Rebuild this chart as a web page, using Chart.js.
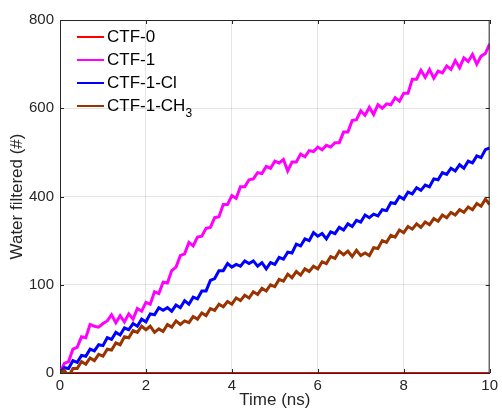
<!DOCTYPE html>
<html>
<head>
<meta charset="utf-8">
<script src="https://cdn.jsdelivr.net/npm/chart.js@4"></script>
<style>
  body { margin: 0; background: #fff; }
  #wrap { position: relative; width: 502px; height: 411px; }
  #legend { position: absolute; left: 77px; top: 25px; font: 17px "Liberation Sans", Arial, sans-serif; color: #000; }
  #legend .row { height: 23px; display: flex; align-items: center; }
  #legend .swatch { width: 27px; height: 2px; margin-right: 3px; }
  #legend sub { font-size: 12px; vertical-align: -6px; line-height: 0; }
</style>
</head>
<body>
<div id="wrap">
  <canvas id="chart"></canvas>
  <div id="legend"></div>
</div>
<script>
const times = [];
for (let i = 0; i <= 100; i++) times.push(i / 10);

const seriesNames = ['CTF-0', 'CTF-1', 'CTF-1-Cl', 'CTF-1-CH<sub>3</sub>'];
const seriesColors = ['#ff0000', '#ff00ff', '#0000ff', '#993300'];

const ctf0 = times.map(() => 0);

const ctf1 = [
  0, 22, 26, 54, 58, 82, 80, 110, 106, 104,
  112, 118, 132, 114, 130, 116, 134, 122, 146, 140,
  160, 156, 184, 180, 206, 204, 232, 240, 266, 270,
  296, 288, 308, 310, 328, 330, 352, 354, 382, 382,
  402, 396, 422, 422, 438, 440, 454, 452, 468, 464,
  480, 476, 484, 458, 478, 478, 496, 490, 504, 502,
  512, 506, 516, 512, 522, 522, 546, 546, 572, 574,
  594, 584, 602, 586, 608, 600, 610, 608, 624, 616,
  634, 634, 666, 666, 686, 670, 688, 668, 684, 680,
  696, 688, 708, 692, 714, 706, 722, 700, 718, 724,
  746
];

const ctf1Cl = [
  0, 12, 10, 28, 24, 40, 38, 54, 50, 64,
  62, 80, 76, 92, 86, 102, 98, 112, 106, 122,
  116, 134, 132, 148, 142, 148, 140, 154, 148, 164,
  156, 172, 168, 186, 186, 210, 214, 232, 232, 248,
  240, 246, 242, 254, 248, 254, 242, 250, 236, 250,
  246, 262, 258, 274, 272, 292, 288, 304, 300, 318,
  310, 316, 304, 320, 316, 330, 324, 338, 332, 346,
  342, 358, 352, 360, 356, 370, 368, 386, 384, 400,
  394, 410, 406, 420, 414, 426, 422, 440, 438, 454,
  450, 464, 458, 472, 464, 480, 476, 492, 488, 506,
  510
];

const ctf1CH3 = [
  0, 6, -8, 10, 10, 26, 20, 34, 28, 42,
  38, 54, 52, 68, 64, 82, 80, 96, 92, 106,
  98, 106, 92, 100, 94, 110, 104, 118, 110, 118,
  114, 128, 122, 136, 130, 146, 142, 156, 150, 162,
  156, 170, 164, 176, 170, 184, 178, 192, 186, 200,
  196, 212, 208, 224, 216, 230, 222, 236, 230, 242,
  236, 252, 248, 264, 260, 276, 268, 276, 264, 278,
  266, 272, 266, 284, 282, 300, 296, 312, 308, 324,
  318, 332, 326, 338, 330, 342, 336, 350, 344, 358,
  352, 364, 358, 370, 364, 376, 370, 384, 378, 394,
  382
];

// tick labels exactly as printed on the original y axis
const yTickLabels = ['0', '100', '400', '600', '800'];
const xTickValues = [0, 2, 4, 6, 8, 10];

const allSeries = [ctf0, ctf1, ctf1Cl, ctf1CH3];
const tickFont = { family: '"Liberation Sans", Arial, sans-serif', size: 15 };
const titleFont = { family: '"Liberation Sans", Arial, sans-serif', size: 17 };
const axisColor = '#262626';

// MATLAB-style box + inward ticks
const boxPlugin = {
  id: 'box',
  afterDatasetsDraw(chart) {
    const { ctx, chartArea: a, scales: { x, y } } = chart;
    ctx.save();
    ctx.strokeStyle = axisColor;
    ctx.lineWidth = 1;
    ctx.beginPath();
    ctx.moveTo(a.left, a.top + 0.5);
    ctx.lineTo(a.right - 0.5, a.top + 0.5);
    ctx.lineTo(a.right - 0.5, a.bottom);
    x.ticks.forEach(t => {
      const px = Math.round(x.getPixelForValue(t.value)) + 0.5;
      ctx.moveTo(px, a.bottom); ctx.lineTo(px, a.bottom - 4);
      ctx.moveTo(px, a.top); ctx.lineTo(px, a.top + 4);
    });
    y.ticks.forEach(t => {
      const py = Math.round(y.getPixelForValue(t.value)) + 0.5;
      ctx.moveTo(a.left, py); ctx.lineTo(a.left + 4, py);
      ctx.moveTo(a.right, py); ctx.lineTo(a.right - 4, py);
    });
    ctx.stroke();
    ctx.restore();
  }
};

new Chart(document.getElementById('chart'), {
  type: 'line',
  data: {
    labels: times,
    datasets: allSeries.map((data, i) => ({
      label: seriesNames[i].replace(/<\/?sub>/g, ''),
      data: data.map((v, k) => ({ x: times[k], y: v })),
      borderColor: seriesColors[i],
      borderWidth: i === 0 ? 2 : 3,
      borderJoinStyle: 'miter',
      pointRadius: 0,
      tension: 0,
      order: 4 - i
    }))
  },
  options: {
    responsive: true,
    maintainAspectRatio: false,
    animation: false,
    layout: { padding: { left: 0, top: 20, right: 9, bottom: 0 } },
    plugins: { legend: { display: false }, tooltip: { enabled: false } },
    scales: {
      x: {
        type: 'linear',
        min: 0, max: 10,
        afterBuildTicks: s => { s.ticks = xTickValues.map(v => ({ value: v })); },
        afterFit: s => { s.height = 38; },
        grid: { color: 'rgba(0,0,0,0.1)', drawTicks: false },
        border: { color: axisColor },
        ticks: { color: axisColor, font: tickFont, padding: 4, maxRotation: 0 },
        title: { display: true, text: 'Time (ns)', color: axisColor, font: titleFont, padding: { top: 0, bottom: 0 } }
      },
      y: {
        min: 0, max: 800,
        afterFit: s => { s.width = 60; },
        grid: { color: 'rgba(0,0,0,0.1)', drawTicks: false },
        border: { color: axisColor },
        ticks: { color: axisColor, font: tickFont, padding: 6, stepSize: 200, callback: (v, i) => yTickLabels[i] },
        title: { display: true, text: 'Water filtered (#)', color: axisColor, font: titleFont, padding: { top: 7, bottom: 0 } }
      }
    }
  },
  plugins: [boxPlugin]
});

document.getElementById('legend').innerHTML = seriesNames.map((n, i) =>
  `<div class="row"><span class="swatch" style="background:${seriesColors[i]}"></span><span>${n}</span></div>`
).join('');
</script>
</body>
</html>
